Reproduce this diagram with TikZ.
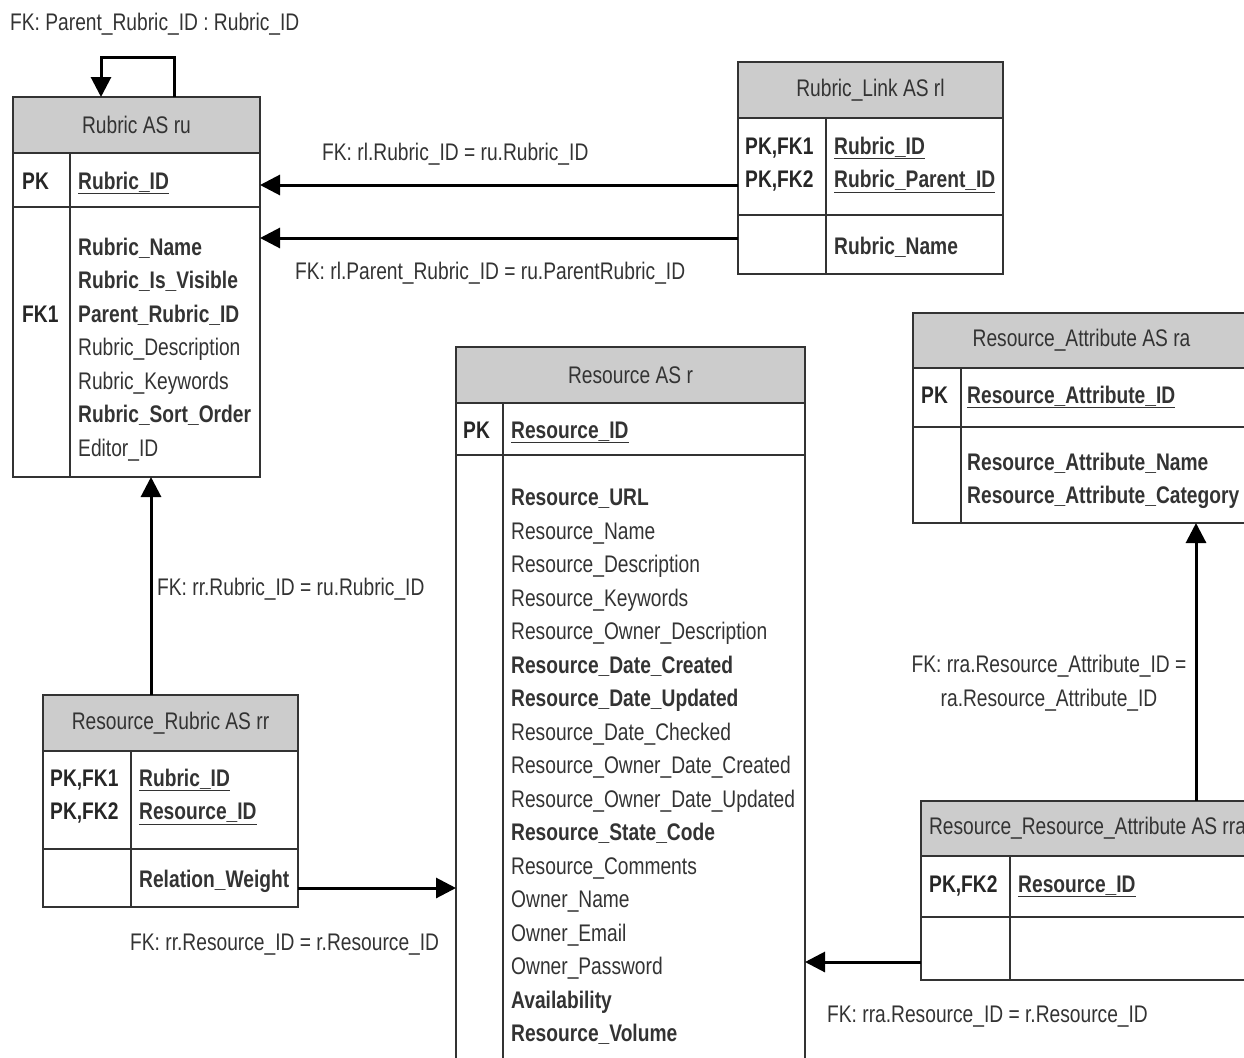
\documentclass[tikz,border=0pt]{standalone}
\usepackage{fontspec}
\setmainfont[FakeStretch=0.8]{Liberation Sans}
\usepackage{tikz}
\usetikzlibrary{
    arrows.meta,
    positioning,
    calc
}
\tikzstyle{tablehead} = [
    draw=black!80,
    fill=black!20,
    line width=2pt,
    anchor=north west,
    inner sep=0pt,
    outer sep=0pt,
    text=black!80
]
\tikzstyle{tablecell} = [
    draw=black!80,
    line width=2pt,
    anchor=north west,
    inner sep=0pt,
    outer sep=0pt
]
\tikzstyle{divider} = [
    draw=black!80,
    line width=2pt
]
\tikzstyle{keytext} = [
    anchor=base west,
    inner sep=0pt,
    align=left,
    font=\bfseries,
    text=black!85
]
\tikzstyle{fieldtext} = [
    anchor=base west,
    inner sep=0pt,
    align=left,
    text=black!80
]
\tikzstyle{fklabel} = [
    anchor=base west,
    inner sep=0pt,
    text=black!80
]
\tikzstyle{fkarrow} = [
    -{Triangle[length=20pt, width=20pt]},
    line width=3pt,
    draw=black
]

\begin{document}
\begin{tikzpicture}[x=1pt, y=-1pt, execute at begin picture={\fontsize{24}{33.5}\selectfont}]
        \useasboundingbox (0,0) rectangle (1244,1057);

        % Rubric
        \node[tablehead, minimum width=247, minimum height=56] (ru-head) at (13,97) {Rubric AS ru};
        \node[tablecell, minimum width=247, minimum height=54] (ru-pk) at (13,153) {};
        \node[tablecell, minimum width=247, minimum height=270] (ru-body) at (13,207) {};
        \draw[divider] ([xshift=57]ru-pk.north west) -- ([xshift=57]ru-body.south west);
        \node[keytext] (ru-pk-key) at (22,189) {PK};
        \node[fieldtext] (ru-pk-fields) at (78,189) {\textbf{\underline{Rubric\_ID}}};
        \node[keytext] (ru-fk-key) at (22,322) {FK1};
        % multi-line texts sit on their last baseline
        \node[fieldtext] (ru-fields) at (78,456) {\textbf{Rubric\_Name}\\\textbf{Rubric\_Is\_Visible}\\\textbf{Parent\_Rubric\_ID}\\Rubric\_Description\\Rubric\_Keywords\\\textbf{Rubric\_Sort\_Order}\\Editor\_ID};

        % Rubric_Link
        \node[tablehead, minimum width=265, minimum height=56] (rl-head) at (738,62) {Rubric\_Link AS rl};
        \node[tablecell, minimum width=265, minimum height=97] (rl-pk) at (738,118) {};
        \node[tablecell, minimum width=265, minimum height=59] (rl-body) at (738,215) {};
        \draw[divider] ([xshift=88]rl-pk.north west) -- ([xshift=88]rl-body.south west);
        \node[keytext] (rl-pk-key) at (745,187.5) {PK,FK1\\PK,FK2};
        \node[fieldtext] (rl-pk-fields) at (834,187.5) {\textbf{\underline{Rubric\_ID}}\\\textbf{\underline{Rubric\_Parent\_ID}}};
        \node[fieldtext] (rl-fields) at (834,254) {\textbf{Rubric\_Name}};

        % Resource_Attribute
        \node[tablehead, minimum width=337, minimum height=55] (ra-head) at (913,313) {Resource\_Attribute AS ra};
        \node[tablecell, minimum width=337, minimum height=59] (ra-pk) at (913,368) {};
        \node[tablecell, minimum width=337, minimum height=96] (ra-body) at (913,427) {};
        \draw[divider] ([xshift=48]ra-pk.north west) -- ([xshift=48]ra-body.south west);
        \node[keytext] (ra-pk-key) at (921,403) {PK};
        \node[fieldtext] (ra-pk-fields) at (967,403) {\textbf{\underline{Resource\_Attribute\_ID}}};
        \node[fieldtext] (ra-fields) at (967,503.5) {\textbf{Resource\_Attribute\_Name}\\\textbf{Resource\_Attribute\_Category}};

        % Resource
        \node[tablehead, minimum width=349, minimum height=56] (r-head) at (456,347) {Resource AS r};
        \node[tablecell, minimum width=349, minimum height=52] (r-pk) at (456,403) {};
        \node[tablecell, minimum width=349, minimum height=630] (r-body) at (456,455) {};
        \draw[divider] ([xshift=47]r-pk.north west) -- ([xshift=47]r-body.south west);
        \node[keytext] (r-pk-key) at (463,438) {PK};
        \node[fieldtext] (r-pk-fields) at (511,438) {\textbf{\underline{Resource\_ID}}};
        \node[fieldtext] (r-fields) at (511,1041.5) {\textbf{Resource\_URL}\\Resource\_Name\\Resource\_Description\\Resource\_Keywords\\Resource\_Owner\_Description\\\textbf{Resource\_Date\_Created}\\\textbf{Resource\_Date\_Updated}\\Resource\_Date\_Checked\\Resource\_Owner\_Date\_Created\\Resource\_Owner\_Date\_Updated\\\textbf{Resource\_State\_Code}\\Resource\_Comments\\Owner\_Name\\Owner\_Email\\Owner\_Password\\\textbf{Availability}\\\textbf{Resource\_Volume}};

        % Resource_Rubric
        \node[tablehead, minimum width=255, minimum height=56] (rr-head) at (43,695) {Resource\_Rubric AS rr};
        \node[tablecell, minimum width=255, minimum height=98] (rr-pk) at (43,751) {};
        \node[tablecell, minimum width=255, minimum height=58] (rr-body) at (43,849) {};
        \draw[divider] ([xshift=88]rr-pk.north west) -- ([xshift=88]rr-body.south west);
        \node[keytext] (rr-pk-key) at (50,819.5) {PK,FK1\\PK,FK2};
        \node[fieldtext] (rr-pk-fields) at (139,819.5) {\textbf{\underline{Rubric\_ID}}\\\textbf{\underline{Resource\_ID}}};
        \node[fieldtext] (rr-fields) at (139,887) {\textbf{Relation\_Weight}};

        % Resource_Resource_Attribute
        \node[tablehead, minimum width=333, minimum height=55] (rra-head) at (921,801) {Resource\_Resource\_Attribute AS rra};
        \node[tablecell, minimum width=333, minimum height=61] (rra-pk) at (921,856) {};
        \node[tablecell, minimum width=333, minimum height=63] (rra-body) at (921,917) {};
        \draw[divider] ([xshift=89]rra-pk.north west) -- ([xshift=89]rra-body.south west);
        \node[keytext] (rra-pk-key) at (929,892) {PK,FK2};
        \node[fieldtext] (rra-pk-fields) at (1018,892) {\textbf{\underline{Resource\_ID}}};

        % Foreign keys
        \draw[fkarrow] ([xshift=37.5]ru-head.north) -- ++(0,-39) -| ([xshift=-35.5]ru-head.north);
        \node[fklabel] (lbl-self) at (10,31) {FK: Parent\_Rubric\_ID : Rubric\_ID};

        \draw[fkarrow] ($(rl-pk.west |- ru-pk.east)+(0,5)$) -- ($(ru-pk.east)+(0,5)$);
        \node[fklabel] (lbl-rl-id) at (322,160) {FK: rl.Rubric\_ID = ru.Rubric\_ID};

        \draw[fkarrow] ($(rl-body.west)+(0,-6.5)$) -- ($(ru-body.east |- rl-body.west)+(0,-6.5)$);
        \node[fklabel] (lbl-rl-parent) at (295,279) {FK: rl.Parent\_Rubric\_ID = ru.ParentRubric\_ID};

        \draw[fkarrow] ($(rr-head.north)+(-19.5,0)$) -- ($(ru-body.south -| rr-head.north)+(-19.5,0)$);
        \node[fklabel] (lbl-rr-rubric) at (157,595) {FK: rr.Rubric\_ID = ru.Rubric\_ID};

        \draw[fkarrow] ($(rr-body.east)+(0,10)$) -- ($(r-body.west |- rr-body.east)+(0,10)$);
        \node[fklabel] (lbl-rr-resource) at (130,950) {FK: rr.Resource\_ID = r.Resource\_ID};

        \draw[fkarrow] ($(rra-head.north -| ra-body.south)+(114.5,0)$) -- ($(ra-body.south)+(114.5,0)$);
        \node[fklabel, align=center, anchor=base] (lbl-rra-attr) at (1049,706) {FK: rra.Resource\_Attribute\_ID =\\ra.Resource\_Attribute\_ID};

        \draw[fkarrow] ($(rra-body.west)+(0,13.5)$) -- ($(r-body.east |- rra-body.west)+(0,13.5)$);
        \node[fklabel] (lbl-rra-resource) at (827,1022) {FK: rra.Resource\_ID = r.Resource\_ID};
    \end{tikzpicture}
\end{document}
